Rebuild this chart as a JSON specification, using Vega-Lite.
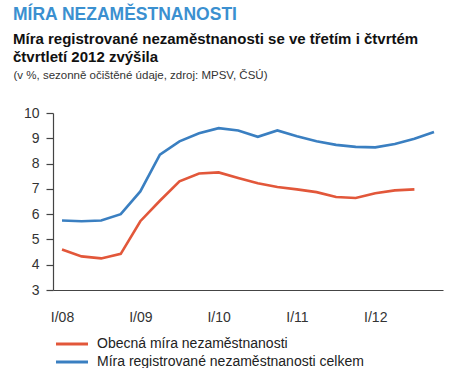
{
  "$schema": "https://vega.github.io/schema/vega-lite/v6.json",
  "background": "white",
  "padding": {"left": 13, "top": 6, "right": 5, "bottom": 0},
  "width": 390,
  "height": 177,
  "title": {
    "text": "MÍRA NEZAMĚSTNANOSTI",
    "subtitle": ["Míra registrované nezaměstnanosti se ve třetím i čtvrtém", "čtvrtletí 2012 zvýšila"],
    "anchor": "start",
    "font": "Liberation Sans Narrow, Liberation Sans",
    "fontSize": 17.5,
    "fontWeight": "bold",
    "color": "#3b90d0",
    "subtitleFont": "Liberation Sans",
    "subtitleFontSize": 15,
    "subtitleFontWeight": "bold",
    "subtitleColor": "#111111",
    "subtitleLineHeight": 18.5,
    "subtitlePadding": 8,
    "offset": 4
  },
  "config": {
    "view": {"stroke": null},
    "font": "Liberation Sans"
  },
  "data": {
    "values": [
      {"rok": 2008.00, "rada": "Obecná míra nezaměstnanosti", "hodnota": 4.60},
      {"rok": 2008.25, "rada": "Obecná míra nezaměstnanosti", "hodnota": 4.33},
      {"rok": 2008.50, "rada": "Obecná míra nezaměstnanosti", "hodnota": 4.25},
      {"rok": 2008.75, "rada": "Obecná míra nezaměstnanosti", "hodnota": 4.43},
      {"rok": 2009.00, "rada": "Obecná míra nezaměstnanosti", "hodnota": 5.72},
      {"rok": 2009.25, "rada": "Obecná míra nezaměstnanosti", "hodnota": 6.53},
      {"rok": 2009.50, "rada": "Obecná míra nezaměstnanosti", "hodnota": 7.30},
      {"rok": 2009.75, "rada": "Obecná míra nezaměstnanosti", "hodnota": 7.61},
      {"rok": 2010.00, "rada": "Obecná míra nezaměstnanosti", "hodnota": 7.65},
      {"rok": 2010.25, "rada": "Obecná míra nezaměstnanosti", "hodnota": 7.43},
      {"rok": 2010.50, "rada": "Obecná míra nezaměstnanosti", "hodnota": 7.22},
      {"rok": 2010.75, "rada": "Obecná míra nezaměstnanosti", "hodnota": 7.07},
      {"rok": 2011.00, "rada": "Obecná míra nezaměstnanosti", "hodnota": 6.98},
      {"rok": 2011.25, "rada": "Obecná míra nezaměstnanosti", "hodnota": 6.87},
      {"rok": 2011.50, "rada": "Obecná míra nezaměstnanosti", "hodnota": 6.68},
      {"rok": 2011.75, "rada": "Obecná míra nezaměstnanosti", "hodnota": 6.64},
      {"rok": 2012.00, "rada": "Obecná míra nezaměstnanosti", "hodnota": 6.83},
      {"rok": 2012.25, "rada": "Obecná míra nezaměstnanosti", "hodnota": 6.94},
      {"rok": 2012.50, "rada": "Obecná míra nezaměstnanosti", "hodnota": 6.98},
      {"rok": 2008.00, "rada": "Míra registrované nezaměstnanosti celkem", "hodnota": 5.75},
      {"rok": 2008.25, "rada": "Míra registrované nezaměstnanosti celkem", "hodnota": 5.72},
      {"rok": 2008.50, "rada": "Míra registrované nezaměstnanosti celkem", "hodnota": 5.75},
      {"rok": 2008.75, "rada": "Míra registrované nezaměstnanosti celkem", "hodnota": 6.00},
      {"rok": 2009.00, "rada": "Míra registrované nezaměstnanosti celkem", "hodnota": 6.90},
      {"rok": 2009.25, "rada": "Míra registrované nezaměstnanosti celkem", "hodnota": 8.35},
      {"rok": 2009.50, "rada": "Míra registrované nezaměstnanosti celkem", "hodnota": 8.88},
      {"rok": 2009.75, "rada": "Míra registrované nezaměstnanosti celkem", "hodnota": 9.20},
      {"rok": 2010.00, "rada": "Míra registrované nezaměstnanosti celkem", "hodnota": 9.40},
      {"rok": 2010.25, "rada": "Míra registrované nezaměstnanosti celkem", "hodnota": 9.31},
      {"rok": 2010.50, "rada": "Míra registrované nezaměstnanosti celkem", "hodnota": 9.06},
      {"rok": 2010.75, "rada": "Míra registrované nezaměstnanosti celkem", "hodnota": 9.31},
      {"rok": 2011.00, "rada": "Míra registrované nezaměstnanosti celkem", "hodnota": 9.08},
      {"rok": 2011.25, "rada": "Míra registrované nezaměstnanosti celkem", "hodnota": 8.88},
      {"rok": 2011.50, "rada": "Míra registrované nezaměstnanosti celkem", "hodnota": 8.74},
      {"rok": 2011.75, "rada": "Míra registrované nezaměstnanosti celkem", "hodnota": 8.66},
      {"rok": 2012.00, "rada": "Míra registrované nezaměstnanosti celkem", "hodnota": 8.64},
      {"rok": 2012.25, "rada": "Míra registrované nezaměstnanosti celkem", "hodnota": 8.77},
      {"rok": 2012.50, "rada": "Míra registrované nezaměstnanosti celkem", "hodnota": 8.98},
      {"rok": 2012.75, "rada": "Míra registrované nezaměstnanosti celkem", "hodnota": 9.25}
    ]
  },
  "mark": {"type": "line", "strokeWidth": 2.6},
  "encoding": {
    "x": {
      "field": "rok",
      "type": "quantitative",
      "scale": {"domain": [2007.885, 2012.865], "nice": false, "zero": false},
      "axis": {
        "title": null,
        "values": [2008, 2009, 2010, 2011, 2012],
        "labelExpr": "'I/' + slice(toString(datum.value), 2)",
        "ticks": false,
        "grid": false,
        "labelPadding": 20,
        "labelFontSize": 14,
        "labelColor": "#333333",
        "domainColor": "#444444",
        "domainWidth": 1.2
      }
    },
    "y": {
      "field": "hodnota",
      "type": "quantitative",
      "scale": {"domain": [3, 10], "nice": false, "zero": false},
      "axis": {
        "title": "(v %, sezonně očištěné údaje, zdroj: MPSV, ČSÚ)",
        "titleAngle": 0,
        "titleAlign": "left",
        "titleBaseline": "alphabetic",
        "titleX": -40,
        "titleY": -35,
        "titleFont": "Liberation Sans",
        "titleFontSize": 11.5,
        "titleFontWeight": "normal",
        "titleColor": "#333333",
        "values": [3, 4, 5, 6, 7, 8, 9, 10],
        "grid": false,
        "tickSize": 7,
        "tickColor": "#444444",
        "tickWidth": 1.2,
        "labelPadding": 7,
        "labelFontSize": 14,
        "labelColor": "#333333",
        "domainColor": "#444444",
        "domainWidth": 1.2
      }
    },
    "color": {
      "field": "rada",
      "type": "nominal",
      "scale": {
        "domain": ["Obecná míra nezaměstnanosti", "Míra registrované nezaměstnanosti celkem"],
        "range": ["#e2573a", "#3a7fc1"]
      },
      "legend": {
        "title": null,
        "orient": "none",
        "legendX": 12,
        "legendY": 224,
        "direction": "vertical",
        "symbolType": "M-4,0H4",
        "symbolSize": 64,
        "symbolStrokeWidth": 3,
        "labelFontSize": 14,
        "labelColor": "#222222",
        "labelOffset": 18,
        "rowPadding": 4,
        "labelLimit": 400
      }
    }
  }
}
